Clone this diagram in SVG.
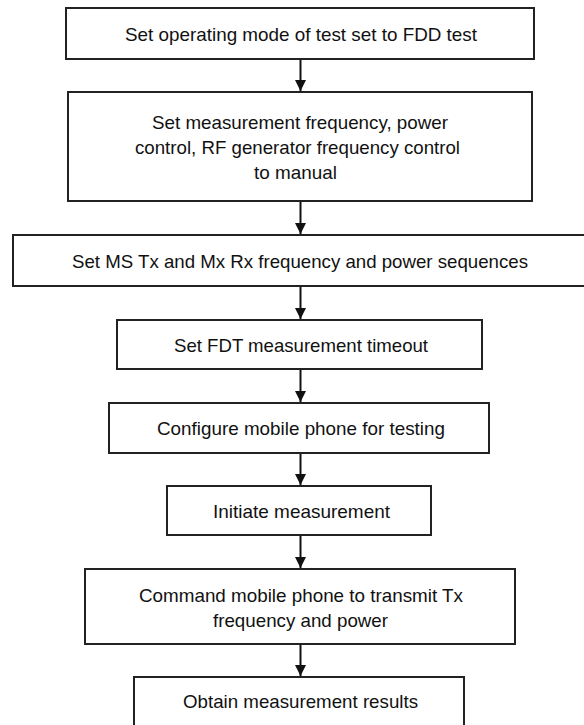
<svg xmlns="http://www.w3.org/2000/svg" width="584" height="725" viewBox="0 0 584 725">
<style>
.box{fill:#fff;stroke:#222;stroke-width:2}
.t{font-family:"Liberation Sans Narrow","Liberation Sans",Arial,sans-serif;font-size:19px;fill:#111;text-anchor:middle}
.c{stroke:#111;stroke-width:2;fill:none}
</style>
<defs>
<marker id="ah" markerUnits="userSpaceOnUse" markerWidth="12" markerHeight="11" refX="11" refY="5.5" orient="auto">
<path d="M0,0 L11,5.5 L0,11 Z" fill="#111"/>
</marker>
</defs>
<rect width="584" height="725" fill="#fff"/>
<g id="connectors">
<line class="c" x1="300.5" y1="60" x2="300.5" y2="91" marker-end="url(#ah)"/>
<line class="c" x1="300.5" y1="202" x2="300.5" y2="234" marker-end="url(#ah)"/>
<line class="c" x1="300.5" y1="287" x2="300.5" y2="319" marker-end="url(#ah)"/>
<line class="c" x1="300.5" y1="370" x2="300.5" y2="402" marker-end="url(#ah)"/>
<line class="c" x1="300.5" y1="454" x2="300.5" y2="485" marker-end="url(#ah)"/>
<line class="c" x1="300.5" y1="536" x2="300.5" y2="568" marker-end="url(#ah)"/>
<line class="c" x1="300.5" y1="645" x2="300.5" y2="676" marker-end="url(#ah)"/>
</g>
<g id="n1"><rect class="box" x="66" y="8" width="468" height="51"/>
<text class="t" x="301" y="40.5" textLength="352" lengthAdjust="spacingAndGlyphs">Set operating mode of test set to FDD test</text></g>
<g id="n2"><rect class="box" x="68" y="92" width="464" height="109"/>
<text class="t" x="300" y="129" textLength="296" lengthAdjust="spacingAndGlyphs">Set measurement frequency, power</text>
<text class="t" x="297.5" y="154" textLength="325" lengthAdjust="spacingAndGlyphs">control, RF generator frequency control</text>
<text class="t" x="295.5" y="179" textLength="83" lengthAdjust="spacingAndGlyphs">to manual</text></g>
<g id="n3"><rect class="box" x="13" y="235" width="574" height="51"/>
<text class="t" x="300" y="268" textLength="456" lengthAdjust="spacingAndGlyphs">Set MS Tx and Mx Rx frequency and power sequences</text></g>
<g id="n4"><rect class="box" x="117" y="320" width="365" height="49"/>
<text class="t" x="301" y="352" textLength="254" lengthAdjust="spacingAndGlyphs">Set FDT measurement timeout</text></g>
<g id="n5"><rect class="box" x="109" y="403" width="380" height="50"/>
<text class="t" x="301" y="435" textLength="288" lengthAdjust="spacingAndGlyphs">Configure mobile phone for testing</text></g>
<g id="n6"><rect class="box" x="167" y="486" width="264" height="49"/>
<text class="t" x="301.5" y="518" textLength="177" lengthAdjust="spacingAndGlyphs">Initiate measurement</text></g>
<g id="n7"><rect class="box" x="85" y="569" width="430" height="75"/>
<text class="t" x="301" y="602" textLength="324" lengthAdjust="spacingAndGlyphs">Command mobile phone to transmit Tx</text>
<text class="t" x="300.5" y="627" textLength="175" lengthAdjust="spacingAndGlyphs">frequency and power</text></g>
<g id="n8"><rect class="box" x="134" y="677" width="330" height="60"/>
<text class="t" x="300.5" y="708" textLength="235" lengthAdjust="spacingAndGlyphs">Obtain measurement results</text></g>
</svg>
